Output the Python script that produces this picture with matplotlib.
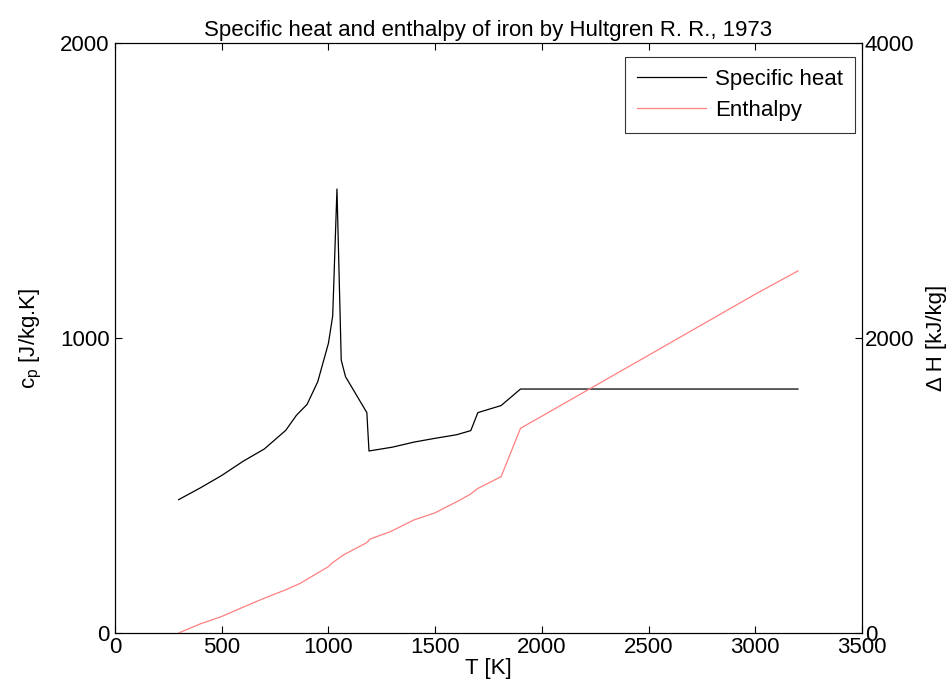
import numpy as np
import matplotlib
matplotlib.use("Agg")
import matplotlib.pyplot as plt

plt.rcParams['font.family'] = ['Liberation Sans', 'DejaVu Sans']
plt.rcParams['mathtext.default'] = 'regular'

# Specific heat, Hultgren 1973
T_cp = [298, 400, 500, 600, 700, 800, 850, 900, 950, 1000, 1020, 1040,
        1060, 1080, 1180, 1190, 1300, 1400, 1500, 1600, 1667, 1700, 1809,
        1900, 3200]
cp = [452, 492, 534, 582, 624, 687, 738, 775, 852, 982, 1075, 1505,
      925, 869, 747, 617, 630, 647, 660, 672, 686, 747, 771,
      827, 827]

# Enthalpy [kJ/kg]
T_h = [298, 400, 500, 600, 700, 800, 867, 1000, 1015, 1070, 1180, 1195,
       1290, 1400, 1500, 1617, 1664, 1700, 1809, 1900, 2000, 2500, 3000, 3200]
dH = [0, 62, 112, 175, 236, 293, 336, 450, 472, 529, 613, 637,
      687, 766, 815, 902, 940, 980, 1060, 1388, 1470, 1883, 2297, 2455]

x_ticks = [0, 500, 1000, 1500, 2000, 2500, 3000, 3500]
left_ticks = [0, 1000, 2000]
right_ticks = [0, 2000, 4000]

FS = 16

W, H = 953, 698
fig = plt.figure(figsize=(W / 100, H / 100), dpi=100)
ax = fig.add_axes([115/W, 1 - 633/H, 747/W, 590/H])
ax2 = ax.twinx()

l1, = ax.plot(T_cp, cp, color='black', lw=0.9, label='Specific heat')
l2, = ax2.plot(T_h, dH, color='#ff8080', lw=0.9, label='Enthalpy')

ax.set_xlim(0, 3500)
ax.set_ylim(0, 2000)
ax2.set_ylim(0, 4000)
ax.set_xticks(x_ticks)
ax.set_yticks(left_ticks)
ax2.set_yticks(right_ticks)

ax.tick_params(axis='x', direction='in', top=True, length=5, width=0.8, labelsize=FS, pad=3)
ax.tick_params(axis='y', direction='in', length=5, width=0.8, labelsize=FS, pad=4)
ax2.tick_params(axis='y', direction='in', length=5, width=0.8, labelsize=FS, pad=2)

for a in (ax, ax2):
    for s in a.spines.values():
        s.set_linewidth(0.8)

ax.set_xlabel('T [K]', fontsize=FS, labelpad=0)
ax.set_ylabel('$c_p$ [J/kg.K]', fontsize=FS)
ax2.set_ylabel('Δ H [kJ/kg]', fontsize=FS)
ax.yaxis.set_label_coords((44 - 115) / 747, 0.5)
ax2.yaxis.set_label_coords((926 - 115) / 747, 0.5)
ax.set_title('Specific heat and enthalpy of iron by Hultgren R. R., 1973', fontsize=FS, pad=5)

leg = ax2.legend([l1, l2], ['Specific heat', 'Enthalpy'], loc='upper right',
                 bbox_to_anchor=(855/W, 1 - 57/H), bbox_transform=fig.transFigure,
                 fontsize=FS, frameon=True, fancybox=False, borderaxespad=0,
                 handlelength=3.1, handletextpad=0.4, borderpad=0.55, labelspacing=0.45)
leg.get_frame().set_edgecolor('black')
leg.get_frame().set_linewidth(0.8)

fig.savefig('out.png', dpi=100)
